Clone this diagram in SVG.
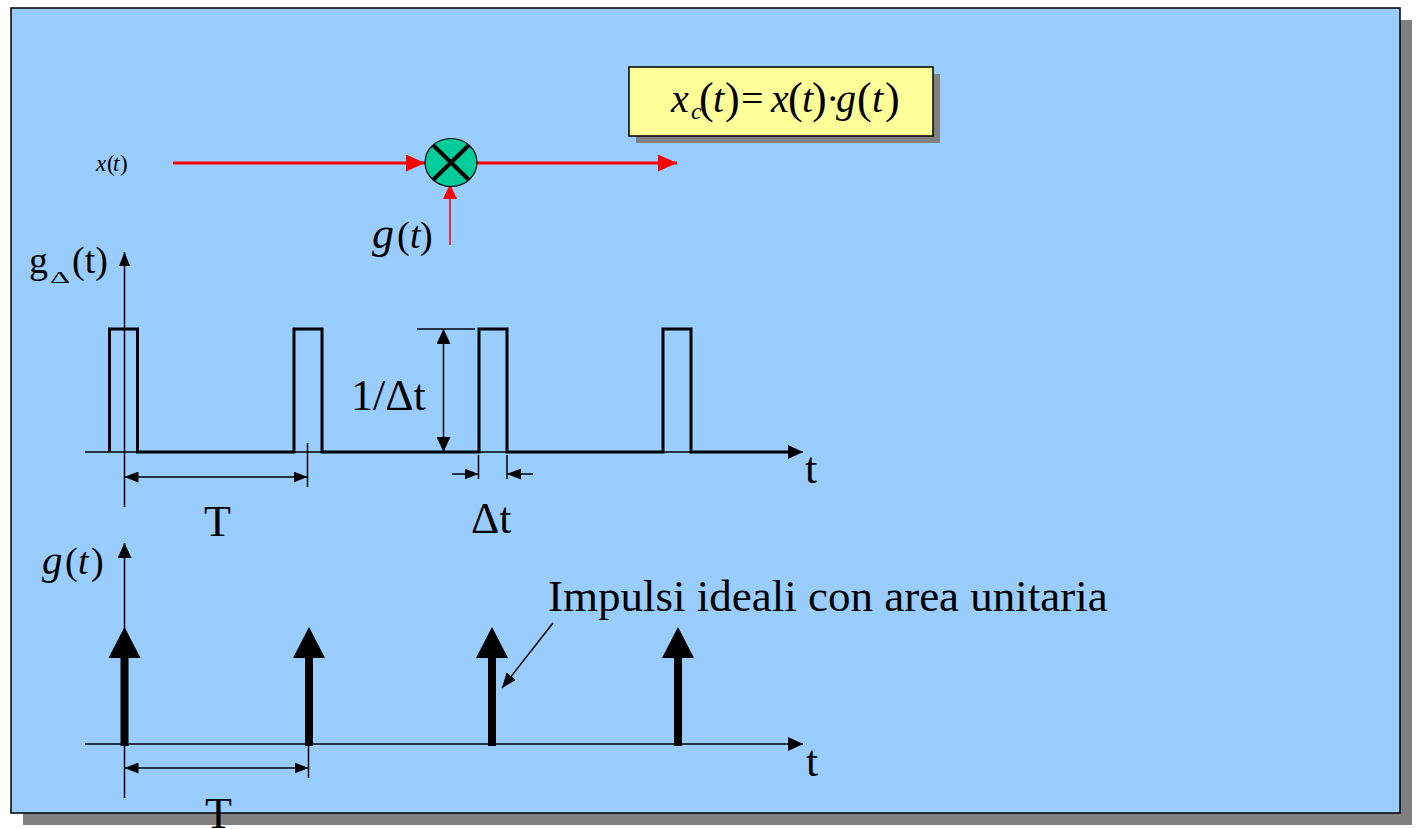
<svg xmlns="http://www.w3.org/2000/svg" width="1417" height="829" viewBox="0 0 1417 829">
<style>
.serif{font-family:"Liberation Serif","Times New Roman",serif;fill:#000}
.it{font-style:italic}
.ax{stroke:#000;stroke-width:1.5;fill:none}
.sig{stroke:#000;stroke-width:3;fill:none;stroke-linejoin:miter}
.red{stroke:#FF0000;fill:none}
</style>
<defs>
<marker id="redHead" markerUnits="userSpaceOnUse" markerWidth="19" markerHeight="17" refX="19" refY="8.5" orient="auto"><path d="M0,0 L19,8.5 L0,17 Z" fill="#FF0000"/></marker>
<marker id="redHeadS" markerUnits="userSpaceOnUse" markerWidth="15" markerHeight="14" refX="15" refY="7" orient="auto"><path d="M0,0 L15,7 L0,14 Z" fill="#FF0000"/></marker>
<marker id="bk" markerUnits="userSpaceOnUse" markerWidth="14" markerHeight="11" refX="14" refY="5.5" orient="auto-start-reverse"><path d="M0,0 L14,5.5 L0,11 Z" fill="#000"/></marker>
<marker id="bkL" markerUnits="userSpaceOnUse" markerWidth="15" markerHeight="14" refX="15" refY="7" orient="auto-start-reverse"><path d="M0,0 L15,7 L0,14 Z" fill="#000"/></marker>
<marker id="bkI" markerUnits="userSpaceOnUse" markerWidth="31" markerHeight="32" refX="2" refY="16" orient="auto"><path d="M0,0 L31,16 L0,32 Z" fill="#000"/></marker>
<marker id="bkP" markerUnits="userSpaceOnUse" markerWidth="15" markerHeight="12" refX="15" refY="6" orient="auto"><path d="M0,0 L15,6 L0,12 Z" fill="#000"/></marker>
</defs>
<rect width="1417" height="829" fill="#FFFFFF"/>
<g id="panel">
<rect x="23" y="20" width="1389" height="805" fill="#808080"/>
<rect x="11" y="8" width="1389" height="805" fill="#99CCFF" stroke="#000" stroke-width="1.5"/>
</g>
<g id="connectors">
<line class="red" x1="173" y1="163" x2="425" y2="163" stroke-width="3" marker-end="url(#redHead)"/>
<line class="red" x1="477" y1="163" x2="677" y2="163" stroke-width="3" marker-end="url(#redHead)"/>
<line class="red" x1="450" y1="245" x2="450" y2="184" stroke-width="1.5" marker-end="url(#redHeadS)"/>
</g>
<g id="multiplier">
<ellipse cx="451" cy="162.5" rx="26" ry="24" fill="#00CC99" stroke="#000" stroke-width="1.2"/>
<line x1="433" y1="145" x2="469" y2="180" stroke="#000" stroke-width="4"/>
<line x1="469" y1="145" x2="433" y2="180" stroke="#000" stroke-width="4"/>
</g>
<g id="formula">
<rect x="636" y="74" width="304" height="69" fill="#808080"/>
<rect x="629" y="67" width="304" height="69" fill="#FFFF99" stroke="#000" stroke-width="1.5"/>
<text class="serif" font-size="40" y="112"><tspan class="it" x="671">x</tspan><tspan class="it" x="691" y="119" font-size="24">c</tspan><tspan x="699" y="113" font-size="44">(</tspan><tspan class="it" x="713" y="112">t</tspan><tspan x="725" y="113" font-size="44">)</tspan><tspan x="741" y="112">=</tspan><tspan class="it" x="771">x</tspan><tspan x="788" y="113" font-size="44">(</tspan><tspan class="it" x="802" y="112">t</tspan><tspan x="812" y="113" font-size="44">)</tspan><tspan x="826" y="112">·</tspan><tspan class="it" x="836">g</tspan><tspan x="857" y="113" font-size="44">(</tspan><tspan class="it" x="872" y="112">t</tspan><tspan x="885" y="113" font-size="44">)</tspan></text>
</g>
<g id="labels-top">
<text class="serif" font-size="23" y="171"><tspan class="it" x="96">x</tspan><tspan x="107">(</tspan><tspan class="it" x="113">t</tspan><tspan x="120">)</tspan></text>
<text class="serif" font-size="38" y="248"><tspan class="it" x="372" font-size="44">g</tspan><tspan x="397">(</tspan><tspan class="it" x="410">t</tspan><tspan x="420">)</tspan></text>
</g>
<g id="graph-gdelta">
<line class="ax" x1="124.5" y1="507" x2="124.5" y2="252" marker-end="url(#bk)"/>
<line class="ax" x1="85" y1="452" x2="803" y2="452" marker-end="url(#bkL)"/>
<path class="sig" d="M109.5,452 V329 H137.5 V452 H294 V329 H322 V452 H479 V329 H507 V452 H663 V329 H691 V452 H790"/>
<line class="ax" x1="307.5" y1="443" x2="307.5" y2="487"/>
<line class="ax" x1="124.5" y1="477" x2="307.5" y2="477" marker-start="url(#bk)" marker-end="url(#bk)"/>
<line class="ax" x1="417" y1="329" x2="475" y2="329"/>
<line class="ax" x1="443.5" y1="329" x2="443.5" y2="452" marker-start="url(#bkL)" marker-end="url(#bkL)"/>
<line class="ax" x1="478.5" y1="455" x2="478.5" y2="479"/>
<line class="ax" x1="507" y1="455" x2="507" y2="479"/>
<line class="ax" x1="452" y1="474" x2="478.5" y2="474" marker-end="url(#bk)"/>
<line class="ax" x1="533" y1="474" x2="507" y2="474" marker-end="url(#bk)"/>
<text class="serif" font-size="38" x="29" y="273">g</text>
<text class="serif" font-size="17" x="50" y="283" textLength="20" lengthAdjust="spacingAndGlyphs">Δ</text>
<text class="serif" font-size="38" x="72" y="273">(t)</text>
<text class="serif" font-size="44" x="204" y="536">T</text>
<text class="serif" font-size="44" x="351" y="410">1/Δt</text>
<text class="serif" font-size="44" x="471" y="533">Δt</text>
<text class="serif" font-size="44" x="805" y="483">t</text>
</g>
<g id="graph-g">
<line class="ax" x1="124.5" y1="798" x2="124.5" y2="543" marker-end="url(#bkL)"/>
<line class="ax" x1="85" y1="744" x2="803" y2="744" marker-end="url(#bkL)"/>
<g stroke="#000" stroke-width="8">
<line x1="124.5" y1="746" x2="124.5" y2="656" marker-end="url(#bkI)"/>
<line x1="309" y1="746" x2="309" y2="656" marker-end="url(#bkI)"/>
<line x1="492" y1="746" x2="492" y2="656" marker-end="url(#bkI)"/>
<line x1="678" y1="746" x2="678" y2="656" marker-end="url(#bkI)"/>
</g>
<line class="ax" x1="308.5" y1="744" x2="308.5" y2="778"/>
<line class="ax" x1="124.5" y1="768" x2="308.5" y2="768" marker-start="url(#bk)" marker-end="url(#bk)"/>
<line class="ax" x1="553" y1="623" x2="502" y2="688" stroke-width="1.2" marker-end="url(#bkP)"/>
<text class="serif" font-size="38" y="574"><tspan class="it" x="42" font-size="41">g</tspan><tspan x="65">(</tspan><tspan class="it" x="78">t</tspan><tspan x="91">)</tspan></text>
<text class="serif" font-size="44" x="806" y="776">t</text>
<text class="serif" font-size="44" x="205" y="828">T</text>
<text class="serif" font-size="45" x="548" y="611">Impulsi ideali con area unitaria</text>
</g>
</svg>
